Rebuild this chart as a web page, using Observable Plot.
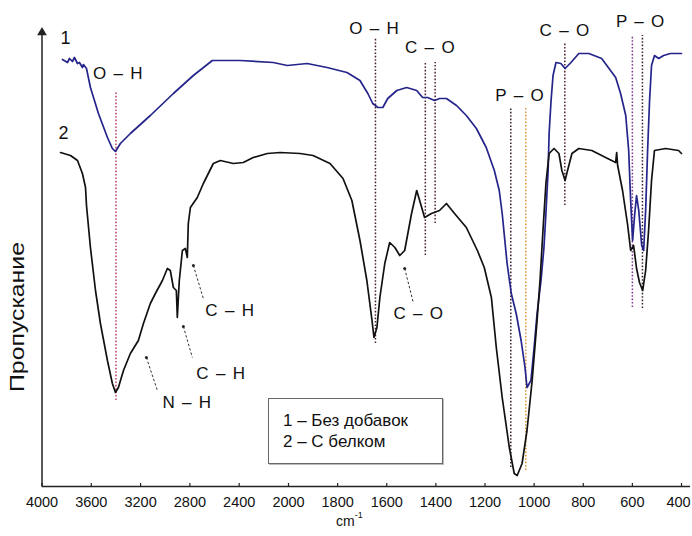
<!DOCTYPE html>
<html><head><meta charset="utf-8">
<script src="https://cdn.jsdelivr.net/npm/d3@7"></script>
<script src="https://cdn.jsdelivr.net/npm/@observablehq/plot@0.6"></script>
<style>
body{margin:0;background:#fff;font-family:"Liberation Sans",Arial,sans-serif;}
#wrap{position:relative;width:692px;height:536px;overflow:hidden;}
.legend{position:absolute;left:268px;top:398px;width:175px;height:66px;border:1px solid #666;box-shadow:1px 1px 0 #bbb;background:#fff;font-size:17px;color:#111;box-sizing:border-box;padding:11px 0 0 14px;line-height:21px;}
.unit{position:absolute;left:336px;top:512px;font-size:14px;color:#111;}
.unit sup{font-size:9px;position:relative;top:-2px;}
</style>
</head><body>
<div id="wrap"></div>
<script>
// Curve 1 — без добавок (wavenumber, cm-1 ; transmittance, arbitrary units)
const wn1 = [3834,3793,3777,3753,3737,3712,3696,3672,3664,3639,3607,3542,3469,3429,3404,3364,3283,3121,2934,2772,2618,2391,2124,2010,
  1924,1843,1762,1709,1677,1657,1636,1616,1596,1559,1519,1478,1454,1434,1405,1385,1357,1316,1276,1235,1195,1162,1142,1130,1110,1093,1073,1053,1037,1029,1013,1000,988,972,960,952,943,939,931,923,911,891,874,850,818,777,725,668,648,627,615,607,599,591,583,574,562,554,546,538,530,522,510,493,473,445,400];
const t1 = [427,424,428,425,429,423,424,419,422,418,399,373,349,338,335,343,353,371,393,411,426,426,424,421,
  423,419,414,406,393,383,379,379,388,396,399,396,389,389,386,388,388,381,371,358,339,316,296,273,223,193,173,146,119,99,106,139,173,206,239,273,316,353,386,411,424,423,418,424,433,433,428,409,393,371,336,286,246,271,291,276,241,236,276,336,386,421,431,428,431,433,433];
// Curve 2 — с белком
const wn2 = [3850,3769,3712,3672,3647,3639,3607,3566,3526,3469,3429,3404,3380,3339,3283,3218,3177,3121,3080,3023,2983,2959,2934,2910,2902,2886,2861,2837,2821,2813,2796,2740,2691,2610,2553,2448,2367,2286,2172,2067,
  1953,1900,1831,1778,1742,1709,1681,1660,1652,1640,1628,1608,1588,1567,1547,1527,1499,1478,1466,1446,1418,1385,1357,1324,1276,1231,1203,1174,1154,1130,1101,1081,1069,1049,1029,1008,988,976,964,952,939,919,899,887,874,866,846,818,765,709,668,664,660,640,619,607,595,583,571,558,546,534,522,510,465,412,400];
const t2 = [334,331,326,313,299,281,239,196,163,126,103,94,99,116,133,146,163,183,193,206,218,216,199,196,169,206,236,238,229,263,279,289,303,323,326,323,324,329,333,334,
  333,331,323,308,286,246,206,166,149,159,189,223,244,239,231,236,273,296,286,269,273,276,283,273,259,236,219,189,139,89,39,13,11,23,56,106,166,206,256,303,333,338,333,316,306,314,333,338,336,329,324,334,321,296,261,236,241,218,204,196,216,256,306,336,338,336,333];

const tickValues = [4000,3600,3200,2800,2400,2000,1800,1600,1400,1200,1000,800,600,400];

// Band marker lines (dotted)
const bandWn     = [3400,1646,1443,1403,1095,1034,875,600,559];
const bandTop    = [394,448,424,424,379,379,443,451,451];
const bandBottom = [86,143,231,263,19,16,281,179,178];
const bandColor  = ["#b84060","#4a2030","#4a2030","#4a2030","#3a2030","#d8963a","#4a2030","#7a3a8a","#3a2030"];

// Bond labels
const labelText = ["O – H","O – H","C – O","P – O","C – O","P – O","C – H","C – H","N – H","C – O"];
const labelWn   = [3380,1649,1422,1057,874,566,2472,2545,2820,1469];
const labelT    = [413,458,439,391,456,465,176,113,84,173];

// Leader lines (dot at tip on the curve, end near the label)
const leadWn1 = [2772,2853,3153,1527];
const leadT1  = [221,160,129,218];
const leadWn2 = [2691,2780,3064,1491];
const leadT2  = [188,129,96,183];

// Curve numbers
const curveNames = ["1","2"];
const curveNameWn = [3810,3826];
const curveNameT  = [448,353];

const chart = Plot.plot({
  width: 692, height: 536,
  marginLeft: 41.5, marginRight: 2, marginTop: 25, marginBottom: 50,
  style: {fontFamily: "'Liberation Sans', Arial, sans-serif", color: "#111", background: "#fff"},
  x: {type: "linear", domain: [4000, 2000, 400], range: [41.5, 288, 681], label: null},
  y: {domain: [0, 461], axis: null},
  marks: [
    Plot.ruleX(bandWn, {x: bandWn, y1: bandBottom, y2: bandTop, stroke: bandColor, strokeWidth: 1.5, strokeDasharray: "1.6,1.8"}),
    Plot.line(wn1, {x: wn1, y: t1, stroke: "#24248a", strokeWidth: 1.7}),
    Plot.line(wn2, {x: wn2, y: t2, stroke: "#111", strokeWidth: 1.7}),
    Plot.link(leadWn1, {x1: leadWn1, y1: leadT1, x2: leadWn2, y2: leadT2, stroke: "#333", strokeWidth: 1, strokeDasharray: "2.5,2"}),
    Plot.dot(leadWn1, {x: leadWn1, y: leadT1, r: 1.5, fill: "#222", stroke: null}),
    Plot.text(labelText, {x: labelWn, y: labelT, text: d => d, fontSize: 17, fill: "#111"}),
    Plot.text(curveNames, {x: curveNameWn, y: curveNameT, text: d => d, fontSize: 18, fill: "#111"}),
    Plot.ruleY([0], {stroke: "#222", strokeWidth: 1.5}),
    Plot.ruleX([4000], {y1: 0, y2: 454, stroke: "#222", strokeWidth: 1.5}),
    Plot.dot([4000], {x: d => d, y: [454], symbol: "triangle", r: 3.6, fill: "#222", stroke: null}),
    Plot.ruleX(tickValues, {x: d => d, y1: 0, y2: 3, stroke: "#222", strokeWidth: 1.2}),
    Plot.axisX(tickValues, {tickSize: 0, tickPadding: 10, fontSize: 14.5, tickFormat: d3.format("d"), label: null}),
    Plot.text(["Пропускание"], {frameAnchor: "left", rotate: -90, textAnchor: "start", dx: -24, dy: 136, fontSize: 20, fill: "#111"})
  ]
});

// spacing tweaks for annotation text
d3.select(chart).selectAll("text").filter(function(){ return this.textContent.includes("–"); })
  .style("letter-spacing", "1.3px");
d3.select(chart).selectAll("text").filter(function(){ return this.textContent === "Пропускание"; })
  .attr("textLength", 150).attr("lengthAdjust", "spacingAndGlyphs");
d3.select(chart).selectAll("text").filter(function(){ return this.textContent === "400"; })
  .attr("dx", -3);

const wrap = document.getElementById("wrap");
wrap.appendChild(chart);
const legend = document.createElement("div");
legend.className = "legend";
legend.innerHTML = "<div>1 – Без добавок</div><div>2 – С белком</div>";
wrap.appendChild(legend);
const unit = document.createElement("div");
unit.className = "unit";
unit.innerHTML = "cm<sup>-1</sup>";
wrap.appendChild(unit);
</script>
</body></html>
